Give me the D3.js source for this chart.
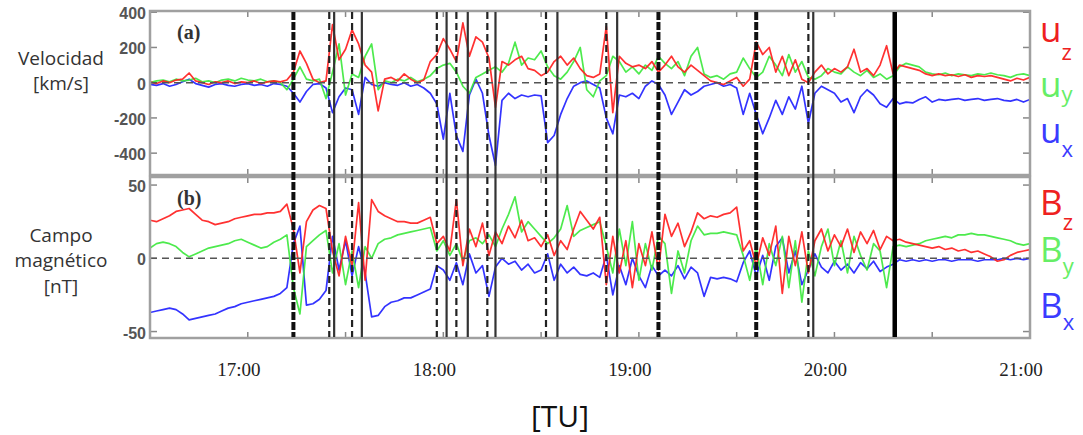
<!DOCTYPE html>
<html>
<head>
<meta charset="utf-8">
<script src="https://cdn.jsdelivr.net/npm/d3@7"></script>
<style>
  body { margin: 0; background: #fff; }
</style>
</head>
<body>
<svg id="chart" width="1083" height="435"></svg>
<script>
// samples every 2 minutes from 16:30 to 21:00
const startTime = "16:30:00";
const endTime = "21:00:00";
const stepMinutes = 2;

const hourLabels = ["17:00", "18:00", "19:00", "20:00", "21:00"];
const velocityTicks = [400, 200, 0, -200, -400];
const fieldTicks = [50, 0, -50];

// velocity [km/s]
const uz = [5, -5, 10, 0, 15, 20, 55, 10, 0, -10, 5, 0, 10, -5, 5, 0, 10, -5, 5, 10, 5, 15,
    60, 180, 110, 20, 0, 10, 330, 130, 190, 300, 220, 100, 60, -160,
    20, 30, 10, 50, 20, 0, 15, 120, 160,
    250, 190, 120, 340, 150, 260, 230, 140, -140, 120, 100, 130, 150, 80,
    70, 40, 60, 120, 150, 100, 140, 80, 40, 30, 50, 320, -170, 150, 110, 90, 100,
    80, 120, 60, 100, 150, 90, 60, 100, 70, 40,
    10, 0, -10, 10, 30, -20, 20, 230, 160, 200,
    60, 150, 40, 130, 20, 0, 60, 100, 50, 80, 60, 90, 190, 60, 80, 40, 100, 210, 50,
    100, 90, 80, 70, 50, 40, 50, 40, 45, 35, 45, 30, 40, 35, 40, 30, 20, 10, 25, 15, 30];
const uy = [0, 10, 15, 5, 20, 10, 15, 25, 5, 10, 0, 15, 20, 10, 25, 15, 10, 20, 5, 10, 0, -40,
    20, 90, 20, 10, 20, -90, 60, 220, -70, 50, 30, 150, 220, -40,
    10, 0, 20, 10, 30, 5, 20, 40, 80,
    100, 110, 60, -20, -60, 30, 50, 70, 90, 60, 110, 230, 100, 140,
    130, 180, 90, 40, 20, 60, 120, 200, -40, -80, 10, 40, 150, 120, 60, 90, 50,
    100, 70, 150, 110, 80, 120, 40, 150, 200, 50,
    30, 40, 20, 50, 60, 140, 80, 30, 60, 150,
    100, 40, 160, 60, 120, 30, 20, 40, 80, 60, 50, 90, 60, 40, 70, 30, 50, 20, 40,
    90, 110, 100, 90, 60, 50, 45, 55, 40, 50, 45, 40, 50, 45, 55, 45, 40, 30, 45, 50, 40];
const ux = [-10, -15, -5, -20, -10, 5, 20, -5, -15, -25, -10, -5, -15, -20, -10, -5, -15, -10, -20, -5, -10, -20,
    -60, -110, -50, -10, -5, -30, -170, -80, -30, -40, -180, 30, -10, -20,
    0, -10, -15, 0, -20, -10, -30, -60, -120,
    -320, -60, -300, -390, -70, 20, -60, -300, -470, -100, -60, -90, -70, -80,
    -70, -75, -340, -300, -180, -90, -20, 0, 10, -10, -30, -200, -290, -70, -80, -60, -90,
    -20, 10, -10, -70, -180, -110, -40, -70, -50, -20,
    -10, 0, -20, -10, -30, -180, -60, -180, -290, -200,
    -100, -180, -80, -150, -20, -230, -60, -20, -40, -60, -110, -90, -170, -80, -40, -70, -120, -140, -90,
    -120, -110, -115, -95, -80, -110, -95, -100, -95, -90, -100, -95, -90, -100, -95, -90, -100, -105, -95, -110, -95];

// magnetic field [nT]
const bz = [26, 25, 27, 29, 32, 33, 34, 30, 26, 25, 23, 24, 25, 27, 28, 29, 30, 30, 31, 31, 32, 37,
    20, -10, 25, 33, 36, 34, 5, -12, 15, -5, 38, -15, 40, 32, 29, 27, 25, 25, 24, 24, 26, 28, 10,
    15, 5, 40, -5, 20, 8, 24, 2, 18, 10, 22, 14, 26, 12,
    14, 8, 16, 2, 12, 6, 20, 32, 26, 20, 28, -18, 15, -10, 12, -20, 10, -5, 18, -8,
    30, 15, 24, 8, 18, 31, 27, 29, 28, 30, 31, 35, 5, 12, -5, 14, 2,
    22, -24, 15, -5, 18, -10, 12, 20, 5, 16, 8, 20, 4, 18, 10, 19, 6, 15, 12,
    13, 11, 10, 9, 8, 7, 8, 6, 7, 5, 6, 4, 5, 3, 1, -2, -1, 2, 4, 5, 6];
const by = [7, 10, 11, 10, 8, 4, 1, 3, 5, 7, 8, 9, 10, 12, 13, 11, 9, 7, 8, 11, 13, 16,
    -20, -38, 8, 12, 16, 19, -10, 10, -18, 5, -20, 8, 0, 10, 13, 14, 16, 17, 18, 19, 20, 21, 5,
    12, 2, 10, -2, 12, 14, 10, 16, 8, 20, 30, 42, 18, 25,
    20, 15, 10, 14, 20, 36, 15, 19, 21, 23, 25, 8, -10, 20, -5, 25, -15, 10, -8, 15,
    10, -24, 5, -10, 12, 22, 16, 17, 17, 18, 17, 16, 2, -15, 8, -18, 10,
    -5, 15, -20, 12, -30, 5, -12, 8, 20, -5, 12, -10, 15, 2, -8, 10, 5, -20, 8,
    9, 8, 9, 10, 12, 13, 14, 15, 14, 16, 16, 17, 16, 16, 15, 14, 13, 12, 10, 9, 10];
const bx = [-37, -36, -35, -34, -35, -38, -42, -41, -40, -39, -38, -36, -34, -33, -31, -30, -29, -28, -27, -26, -24, -20,
    10, 22, -32, -31, -28, -22, 15, -8, 12, -12, 8, -10, -40, -39, -33, -30, -29, -27, -27, -25, -23, -21, -5,
    -8, -15, -3, -18, 3, -10, -5, -26, -6, 0, -4, -2, -8, -4,
    -10, -8, 3, -15, -4, -10, -6, -11, -12, -10, -13, 2, -25, -5, -18, 0, -12, -20, -5, -12,
    -8, -12, -5, -14, -6, -10, -26, -13, -14, -13, -14, -16, -3, 5, -12, 2, -15,
    8, 14, -10, 5, -18, -8, 3, -6, -10, -2, -8, -4, -10, -3, -7, -2, -9, -6, -4,
    -1, -2, -1, -2, -1, -2, -1, -1, -2, -1, -1, -1, -2, -1, -1, -1, 0, -1, 0, -1, 0];

// boundary crossings
const thickDashedLines = ["17:14:00", "19:06:00", "19:36:00"];
const dashedLines = ["17:25:00", "17:32:00", "17:58:00", "18:04:00", "18:13:30", "18:31:30", "18:50:00", "19:52:00"];
const solidLines = ["17:26:30", "17:35:00", "18:01:00", "18:07:30", "18:16:00", "18:35:00", "18:53:20", "19:53:30"];
const thickSolidLines = ["20:18:30"];

const svg = d3.select("#chart");
const parseTime = d3.timeParse("%H:%M:%S");
const t0 = parseTime(startTime);
const t1 = parseTime(endTime);

const x = d3.scaleTime().domain([t0, t1]).range([150, 1030]);
const halfHours = x.ticks(d3.timeMinute.every(30));

const red = "#ff1f1f", green = "#3ee83e", blue = "#2222ff";

function sampleTime(i) {
    return d3.timeMinute.offset(t0, i * stepMinutes);
}

function drawPanel(id, top, bottom, domain, ticks, series, letter) {
    const y = d3.scaleLinear().domain(domain).range([bottom, top]);
    const g = svg.append("g");

    svg.append("clipPath").attr("id", "clip-" + id)
        .append("rect")
        .attr("x", 150).attr("y", top)
        .attr("width", 880).attr("height", bottom - top);

    // small inward ticks on all four sides
    ticks.forEach(function (v) {
        g.append("line").attr("x1", 150).attr("x2", 157)
            .attr("y1", y(v)).attr("y2", y(v))
            .attr("stroke", "#888").attr("stroke-width", 1.5);
        g.append("line").attr("x1", 1023).attr("x2", 1030)
            .attr("y1", y(v)).attr("y2", y(v))
            .attr("stroke", "#888").attr("stroke-width", 1.5);
        g.append("text")
            .attr("x", 146).attr("y", y(v) + 7)
            .attr("text-anchor", "end")
            .attr("font-family", "Liberation Sans, Arial, sans-serif")
            .attr("font-weight", "bold")
            .attr("font-size", "16px")
            .attr("fill", "#555")
            .text(v);
    });
    halfHours.forEach(function (t) {
        g.append("line").attr("x1", x(t)).attr("x2", x(t))
            .attr("y1", top).attr("y2", top + 6)
            .attr("stroke", "#888").attr("stroke-width", 1.5);
        g.append("line").attr("x1", x(t)).attr("x2", x(t))
            .attr("y1", bottom - 6).attr("y2", bottom)
            .attr("stroke", "#888").attr("stroke-width", 1.5);
    });

    const line = d3.line()
        .x(function (d, i) { return x(sampleTime(i)); })
        .y(function (d) { return y(d); });

    const data = g.append("g").attr("clip-path", "url(#clip-" + id + ")");
    series.forEach(function (s) {
        data.append("path")
            .datum(s.values)
            .attr("d", line)
            .attr("fill", "none")
            .attr("stroke", s.color)
            .attr("stroke-width", 1.7)
            .attr("stroke-linejoin", "round")
            .attr("opacity", 0.92);
    });

    // zero reference
    data.append("line")
        .attr("x1", 150).attr("x2", 1030)
        .attr("y1", y(0)).attr("y2", y(0))
        .attr("stroke", "#555").attr("stroke-width", 1.5)
        .attr("stroke-dasharray", "7,5");

    g.append("rect")
        .attr("x", 150).attr("y", top)
        .attr("width", 880).attr("height", bottom - top)
        .attr("fill", "none")
        .attr("stroke", "#a0a0a0")
        .attr("stroke-width", 2.5);

    g.append("text")
        .attr("x", 177).attr("y", top + 28)
        .attr("font-family", "Liberation Serif, Times New Roman, serif")
        .attr("font-weight", "bold")
        .attr("font-size", "20px")
        .attr("fill", "#333")
        .text(letter);
}

drawPanel("a", 11, 175, [-524, 407], velocityTicks,
    [{ values: ux, color: blue }, { values: uy, color: green }, { values: uz, color: red }], "(a)");
drawPanel("b", 177, 338, [-54.4, 55.5], fieldTicks,
    [{ values: bx, color: blue }, { values: by, color: green }, { values: bz, color: red }], "(b)");

// vertical event lines through both panels
function drawEvents(times, width, dash, color) {
    svg.selectAll(null)
        .data(times)
        .enter()
        .append("line")
        .attr("x1", function (d) { return x(parseTime(d)); })
        .attr("x2", function (d) { return x(parseTime(d)); })
        .attr("y1", 12).attr("y2", 337)
        .attr("stroke", color)
        .attr("stroke-width", width)
        .attr("stroke-dasharray", dash);
}
drawEvents(dashedLines, 2.2, "7,4", "#222");
drawEvents(solidLines, 2.2, null, "#333");
drawEvents(thickDashedLines, 4, "8,2", "#111");
drawEvents(thickSolidLines, 4.5, null, "#000");

// hour labels
svg.selectAll(null)
    .data(hourLabels)
    .enter()
    .append("text")
    .attr("x", function (d) { return x(parseTime(d + ":00")) - 9; })
    .attr("y", 376)
    .attr("text-anchor", "middle")
    .attr("font-family", "Liberation Serif, Times New Roman, serif")
    .attr("font-size", "19px")
    .attr("fill", "#222")
    .text(function (d) { return d; });

svg.append("text")
    .attr("x", 560).attr("y", 427)
    .attr("text-anchor", "middle")
    .attr("font-family", "Open Sans, sans-serif")
    .attr("font-size", "30px")
    .attr("fill", "#111")
    .text("[TU]");

// left titles
const titleLines = [
    { text: "Velocidad", y: 65 },
    { text: "[km/s]", y: 90 },
    { text: "Campo", y: 242 },
    { text: "magnético", y: 267 },
    { text: "[nT]", y: 293 }
];
svg.selectAll(null)
    .data(titleLines)
    .enter()
    .append("text")
    .attr("x", 61)
    .attr("y", function (d) { return d.y; })
    .attr("text-anchor", "middle")
    .attr("font-family", "Open Sans, sans-serif")
    .attr("font-size", "19px")
    .attr("fill", "#333")
    .text(function (d) { return d.text; });

// right legend
const legend = [
    { main: "u", sub: "z", color: "#ee2020", y: 42, dy: 18 },
    { main: "u", sub: "y", color: "#66ee66", y: 97, dy: 5 },
    { main: "u", sub: "x", color: "#3b3bff", y: 143, dy: 14 },
    { main: "B", sub: "z", color: "#ee2020", y: 215, dy: 15 },
    { main: "B", sub: "y", color: "#66ee66", y: 262, dy: 12 },
    { main: "B", sub: "x", color: "#3b3bff", y: 318, dy: 12 }
];
legend.forEach(function (d) {
    const t = svg.append("text")
        .attr("x", 1040).attr("y", d.y)
        .attr("font-family", "Open Sans, sans-serif")
        .attr("fill", d.color);
    t.append("tspan").attr("font-size", "35px").text(d.main);
    t.append("tspan").attr("font-size", "22px").attr("dy", d.dy).text(d.sub);
});
</script>
</body>
</html>
